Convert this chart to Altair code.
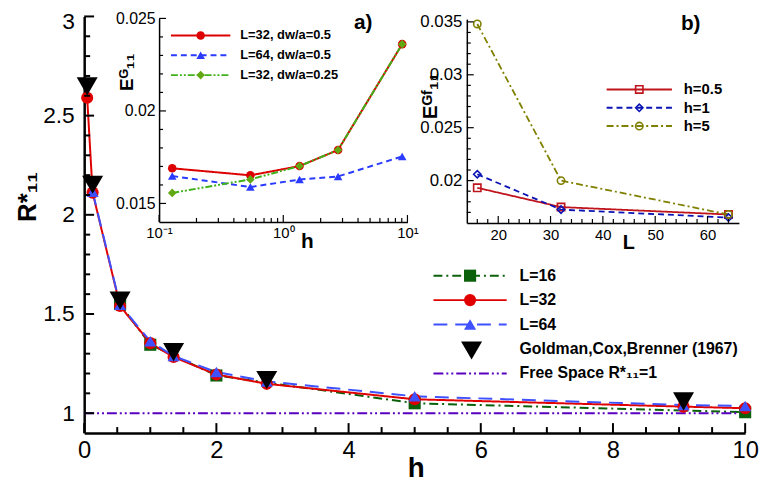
import altair as alt
import pandas as pd

# ---------------- data: main plot ----------------
main_series = ["L=16", "L=32", "L=64", "Goldman,Cox,Brenner (1967)", "Free Space R*₁₁=1"]
h16 = [0.5431, 1.0, 2.0, 5.0, 10.0]
r16 = [1.55, 1.345, 1.19, 1.05, 1.005]
h32 = [0.0453, 0.1276, 0.5431, 1.0, 1.3524, 2.0, 2.7622, 5.0, 9.0677, 10.0]
r32 = [2.59, 2.112, 1.540, 1.353, 1.283, 1.195, 1.148, 1.070, 1.033, 1.025]
h64 = [0.1276, 0.5431, 1.0, 1.3524, 2.0, 2.7622, 5.0, 9.0677, 10.0]
r64 = [2.116, 1.546, 1.362, 1.288, 1.207, 1.160, 1.085, 1.041, 1.036]
h_gcb = [0.0453, 0.1276, 0.5431, 1.3524, 2.7622, 9.0677]
r_gcb = [2.6475, 2.1515, 1.5675, 1.3079, 1.1671, 1.0591]
h_free = [0.0, 10.0]
r_free = [1.0, 1.0]

# ---------------- data: inset a ----------------
a_series = ["L=32, dw/a=0.5", "L=64, dw/a=0.5", "L=32, dw/a=0.25"]
ha = [0.1276, 0.5431, 1.3524, 2.7622, 9.0677]
ea_32 = [0.0169, 0.01652, 0.01702, 0.01789, 0.02361]
ea_64 = [0.01648, 0.01589, 0.01629, 0.01646, 0.01754]
ea_32q = [0.01557, 0.0163, 0.01702, 0.01789, 0.02361]

# ---------------- data: inset b ----------------
b_series = ["h=0.5", "h=1", "h=5"]
Lb = [16, 32, 64]
eb_05 = [0.01932, 0.0175, 0.0168]
eb_1 = [0.0206, 0.01726, 0.01651]
eb_5 = [0.0348, 0.0200, 0.0168]

# ---------------- tick values ----------------
mx_major = [0, 2, 4, 6, 8, 10]
mx_minor = [0.5, 1, 1.5, 2.5, 3, 3.5, 4.5, 5, 5.5, 6.5, 7, 7.5, 8.5, 9, 9.5]
my_major = [1, 1.5, 2, 2.5, 3]
my_minor = [1.1, 1.2, 1.3, 1.4, 1.6, 1.7, 1.8, 1.9, 2.1, 2.2, 2.3, 2.4, 2.6, 2.7, 2.8, 2.9]
ax_major = [0.1, 1, 10]
ax_minor = [0.2, 0.3, 0.4, 0.5, 0.6, 0.7, 0.8, 0.9, 2, 3, 4, 5, 6, 7, 8, 9]
ay_major = [0.015, 0.02, 0.025]
ay_minor = [0.016, 0.017, 0.018, 0.019, 0.021, 0.022, 0.023, 0.024]
bx_major = [20, 30, 40, 50, 60]
bx_minor = [16, 18, 22, 24, 26, 28, 32, 34, 36, 38, 42, 44, 46, 48, 52, 54, 56, 58, 62, 64]
by_major = [0.02, 0.025, 0.03, 0.035]
by_minor = [0.017, 0.018, 0.019, 0.021, 0.022, 0.023, 0.024, 0.026, 0.027, 0.028,
            0.029, 0.031, 0.032, 0.033, 0.034]

FONT = "Liberation Sans"
W, H = 668, 421

# ---------------- scales ----------------
mx = alt.Scale(domain=[0, 10], nice=False, zero=False)
my = alt.Scale(domain=[0.9, 3], nice=False, zero=False)
axs = alt.Scale(type="log", domain=[0.1, 10], range=[75.7, 326.7], nice=False)
ays = alt.Scale(domain=[0.014, 0.025], range=[207.7, 2.0], nice=False, zero=False)
bxs = alt.Scale(domain=[14, 66], range=[386.7, 661.7], nice=False, zero=False)
bys = alt.Scale(domain=[0.016, 0.03526], range=[208.7, 2.7], nice=False, zero=False)


def axis(orient, values, fs, pad, title, tfs, tx, ty, dw, offset=0, fmt="~r", expr=None,
         loff=0):
    kw = dict(orient=orient, values=values, ticks=False, tickSize=0, grid=False,
              domainColor="black", domainWidth=dw, labelFont=FONT, labelFontSize=fs,
              labelColor="black", labelPadding=pad, labelFlush=False, labelOverlap=False,
              labelOffset=loff,
              title=title, titleFont=FONT, titleFontSize=tfs, titleFontWeight="bold",
              titleColor="black", titleX=tx, titleY=ty, titleAlign="center",
              titleBaseline="middle", offset=offset)
    if orient == "left":
        kw["titleAngle"] = 270
    if expr:
        kw["labelExpr"] = expr
    else:
        kw["format"] = fmt
    return alt.Axis(**kw)


def yticks(values, xd, xs, ys, xa, ya, length, width):
    return alt.Chart(pd.DataFrame({"v": values})).mark_tick(
        orient="horizontal", size=length, thickness=width, xOffset=length / 2,
        color="black", opacity=1).encode(
        x=alt.XDatum(xd, type="quantitative", scale=xs, axis=xa),
        y=alt.Y("v:Q", scale=ys, axis=ya))


def xticks(values, yd, xs, ys, xa, ya, length, width):
    return alt.Chart(pd.DataFrame({"v": values})).mark_tick(
        orient="vertical", size=length, thickness=width, yOffset=-length / 2,
        color="black", opacity=1).encode(
        x=alt.X("v:Q", scale=xs, axis=xa),
        y=alt.YDatum(yd, type="quantitative", scale=ys, axis=ya))


def leg(x, y, fs, rowpad, **kw):
    return alt.Legend(orient="none", legendX=x, legendY=y, title=None, padding=0,
                      labelFont=FONT, labelFontSize=fs, labelFontWeight="bold",
                      labelColor="black", rowPadding=rowpad, labelLimit=0, **kw)


# ---------------- main plot ----------------
main_lines_df = pd.DataFrame({
    "h": h16 + h32 + h64 + h_free,
    "R": r16 + r32 + r64 + r_free,
    "s": [main_series[0]] * len(h16) + [main_series[1]] * len(h32)
         + [main_series[2]] * len(h64) + [main_series[4]] * len(h_free)})
main_pts_df = main_lines_df[main_lines_df["s"] != main_series[4]]
gcb_df = pd.DataFrame({"h": h_gcb, "R": r_gcb, "s": [main_series[3]] * len(h_gcb)})

green, red, blue, purple = "#0b610b", "#e00000", "#3f51ff", "#5a00c0"

main_line_leg = leg(382, 254, 16, 8.7, symbolType="M-37,0H37", symbolSize=4,
                    symbolStrokeWidth=2, labelOffset=42)
main_pt_leg = leg(382, 254, 16, 8.7, symbolSize=150, labelExpr="''", symbolStrokeWidth=0)
gcb_leg = leg(380.5, 326.6, 16, 8.7, symbolSize=450, symbolType="triangle-down",
              labelExpr="''", symbolStrokeWidth=0)

mxa = axis("bottom", mx_major, 24, 6, "h", 28, 335, 36, 2.5)
mya = axis("left", my_major, 23, 10, "R*₁₁", 26, -57, 182, 2.5,
           loff={"condition": {"test": "datum.value >= 2.9", "value": 5.5}, "value": 0})

main_lines = alt.Chart(main_lines_df).mark_line(strokeWidth=2).encode(
    x=alt.X("h:Q", scale=mx, axis=mxa),
    y=alt.Y("R:Q", scale=my, axis=mya),
    color=alt.Color("s:N", scale=alt.Scale(domain=main_series,
                    range=[green, red, blue, "transparent", purple]), legend=main_line_leg),
    strokeDash=alt.StrokeDash("s:N", scale=alt.Scale(domain=main_series,
                    range=[[9, 4, 2, 4], [1, 0], [14, 8], [1, 0], [10, 3, 2, 3, 2, 3]]),
                    legend=main_line_leg))
main_pts = alt.Chart(main_pts_df).mark_point(filled=True, size=150, opacity=1).encode(
    x=alt.X("h:Q", scale=mx, axis=mxa),
    y=alt.Y("R:Q", scale=my, axis=mya),
    color=alt.Color("s:N", scale=alt.Scale(domain=main_series[:3], range=[green, red, blue]),
                    legend=main_pt_leg),
    shape=alt.Shape("s:N", scale=alt.Scale(domain=main_series[:3],
                    range=["square", "circle", "triangle-up"]), legend=main_pt_leg))
gcb_pts = alt.Chart(gcb_df).mark_point(filled=True, size=450, shape="triangle-down",
                                       opacity=1).encode(
    x=alt.X("h:Q", scale=mx, axis=mxa),
    y=alt.Y("R:Q", scale=my, axis=mya),
    color=alt.Color("s:N", scale=alt.Scale(domain=[main_series[3]], range=["black"]),
                    legend=gcb_leg))

main_group = alt.layer(
    main_lines, main_pts, gcb_pts,
    yticks(my_major, 0, mx, my, mxa, mya, 10, 2), yticks(my_minor, 0, mx, my, mxa, mya, 6, 2),
    xticks(mx_major, 0.9, mx, my, mxa, mya, 10, 2), xticks(mx_minor, 0.9, mx, my, mxa, mya, 6, 2),
).resolve_scale(color="independent", shape="independent", strokeDash="independent")

# ---------------- inset a ----------------
a_df = pd.DataFrame({"h": ha * 3, "E": ea_32 + ea_64 + ea_32q,
                     "s": [a_series[0]] * 5 + [a_series[1]] * 5 + [a_series[2]] * 5})
a_red, a_blue, a_green, a_green_m = "#dd0000", "#2a3bff", "#3fb21a", "#62a812"
a_line_leg = leg(111.2, 12.8, 13, 6, symbolType="M-30,0H30", symbolSize=4,
                 symbolStrokeWidth=2, labelOffset=33.5)
a_pt_leg = leg(111.2, 12.8, 13, 6, symbolSize=75, labelExpr="''", symbolStrokeWidth=0)

axa = axis("bottom", ax_major, 15, 4, "h", 21, 225, 20, 1.5, offset=-213.3,
           expr="datum.value < 0.5 ? '10⁻¹' : datum.value < 5 ? '10⁰' : '10¹'")
aya = axis("left", ay_major, 16, 4, "Eᴳ₁₁", 19, -33, 56, 1.5, offset=-75.7)

a_lines = alt.Chart(a_df).mark_line(strokeWidth=2).encode(
    x=alt.X("h:Q", scale=axs, axis=axa),
    y=alt.Y("E:Q", scale=ays, axis=aya),
    color=alt.Color("s:N", scale=alt.Scale(domain=a_series, range=[a_red, a_blue, a_green]),
                    legend=a_line_leg),
    strokeDash=alt.StrokeDash("s:N", scale=alt.Scale(domain=a_series,
                    range=[[1, 0], [6, 4], [7, 2, 2, 2, 2, 2]]), legend=a_line_leg))
a_pts = alt.Chart(a_df).mark_point(filled=True, size=75, opacity=1).encode(
    x=alt.X("h:Q", scale=axs, axis=axa),
    y=alt.Y("E:Q", scale=ays, axis=aya),
    color=alt.Color("s:N", scale=alt.Scale(domain=a_series, range=[a_red, a_blue, a_green_m]),
                    legend=a_pt_leg),
    shape=alt.Shape("s:N", scale=alt.Scale(domain=a_series,
                    range=["circle", "triangle-up", "diamond"]), legend=a_pt_leg))
a_label = alt.Chart(pd.DataFrame({"t": ["a)"]})).mark_text(
    font=FONT, fontSize=21, fontWeight="bold", color="black").encode(
    text="t:N", x=alt.value(282), y=alt.value(7))

inset_a = alt.layer(
    a_lines, a_pts,
    yticks(ay_major, 0.1, axs, ays, axa, aya, 7, 1.2),
    yticks(ay_minor, 0.1, axs, ays, axa, aya, 4, 1.2),
    xticks(ax_major, 0.014, axs, ays, axa, aya, 7, 1.2),
    xticks(ax_minor, 0.014, axs, ays, axa, aya, 4, 1.2),
    a_label,
).resolve_scale(color="independent", shape="independent", strokeDash="independent")

# ---------------- inset b ----------------
b_df = pd.DataFrame({"L": Lb * 3, "E": eb_05 + eb_1 + eb_5,
                     "s": [b_series[0]] * 3 + [b_series[1]] * 3 + [b_series[2]] * 3})
b_red, b_blue, b_olive = "#c0141c", "#0a14b4", "#7f7f00"
b_line_leg = leg(553.5, 66.3, 15, 2.5, symbolType="M-33,0H33", symbolSize=4,
                 symbolStrokeWidth=2, labelOffset=37.5)
b_pt_leg = leg(553.5, 66.3, 15, 2.5, symbolSize=55, labelExpr="''", symbolStrokeWidth=1.6)

bxa = axis("bottom", bx_major, 15, 5, "L", 20, 550, 20, 1.5, offset=-212.3)
bya = axis("left", by_major, 17, 5, "Eᴳᶠ₁₁", 21, -37, 80, 1.5, offset=-386.7)

b_lines = alt.Chart(b_df).mark_line(strokeWidth=1.8).encode(
    x=alt.X("L:Q", scale=bxs, axis=bxa),
    y=alt.Y("E:Q", scale=bys, axis=bya),
    color=alt.Color("s:N", scale=alt.Scale(domain=b_series, range=[b_red, b_blue, b_olive]),
                    legend=b_line_leg),
    strokeDash=alt.StrokeDash("s:N", scale=alt.Scale(domain=b_series,
                    range=[[1, 0], [6, 4], [7, 3, 2, 3]]), legend=b_line_leg))
b_pts = alt.Chart(b_df).mark_point(filled=False, size=55, strokeWidth=1.6, opacity=1).encode(
    x=alt.X("L:Q", scale=bxs, axis=bxa),
    y=alt.Y("E:Q", scale=bys, axis=bya),
    color=alt.Color("s:N", scale=alt.Scale(domain=b_series, range=[b_red, b_blue, b_olive]),
                    legend=b_pt_leg),
    shape=alt.Shape("s:N", scale=alt.Scale(domain=b_series,
                    range=["square", "diamond", "circle"]), legend=b_pt_leg))
b_label = alt.Chart(pd.DataFrame({"t": ["b)"]})).mark_text(
    font=FONT, fontSize=21, fontWeight="bold", color="black").encode(
    text="t:N", x=alt.value(613), y=alt.value(8))

inset_b = alt.layer(
    b_lines, b_pts,
    yticks(by_major, 14, bxs, bys, bxa, bya, 7, 1.2),
    yticks(by_minor, 14, bxs, bys, bxa, bya, 4, 1.2),
    xticks(bx_major, 0.016, bxs, bys, bxa, bya, 7, 1.2),
    xticks(bx_minor, 0.016, bxs, bys, bxa, bya, 4, 1.2),
    b_label,
).resolve_scale(color="independent", shape="independent", strokeDash="independent")

chart = alt.layer(main_group, inset_a, inset_b).resolve_scale(
    x="independent", y="independent", color="independent", shape="independent",
    strokeDash="independent",
).resolve_axis(x="independent", y="independent").properties(
    width=W, height=H,
    autosize=alt.AutoSizeParams(type="none"),
    padding={"left": 77, "top": 6, "right": 15, "bottom": 49},
    background="white",
).configure_view(strokeWidth=0)

chart.save("out.html", embed_options={"renderer": "svg", "actions": False})
